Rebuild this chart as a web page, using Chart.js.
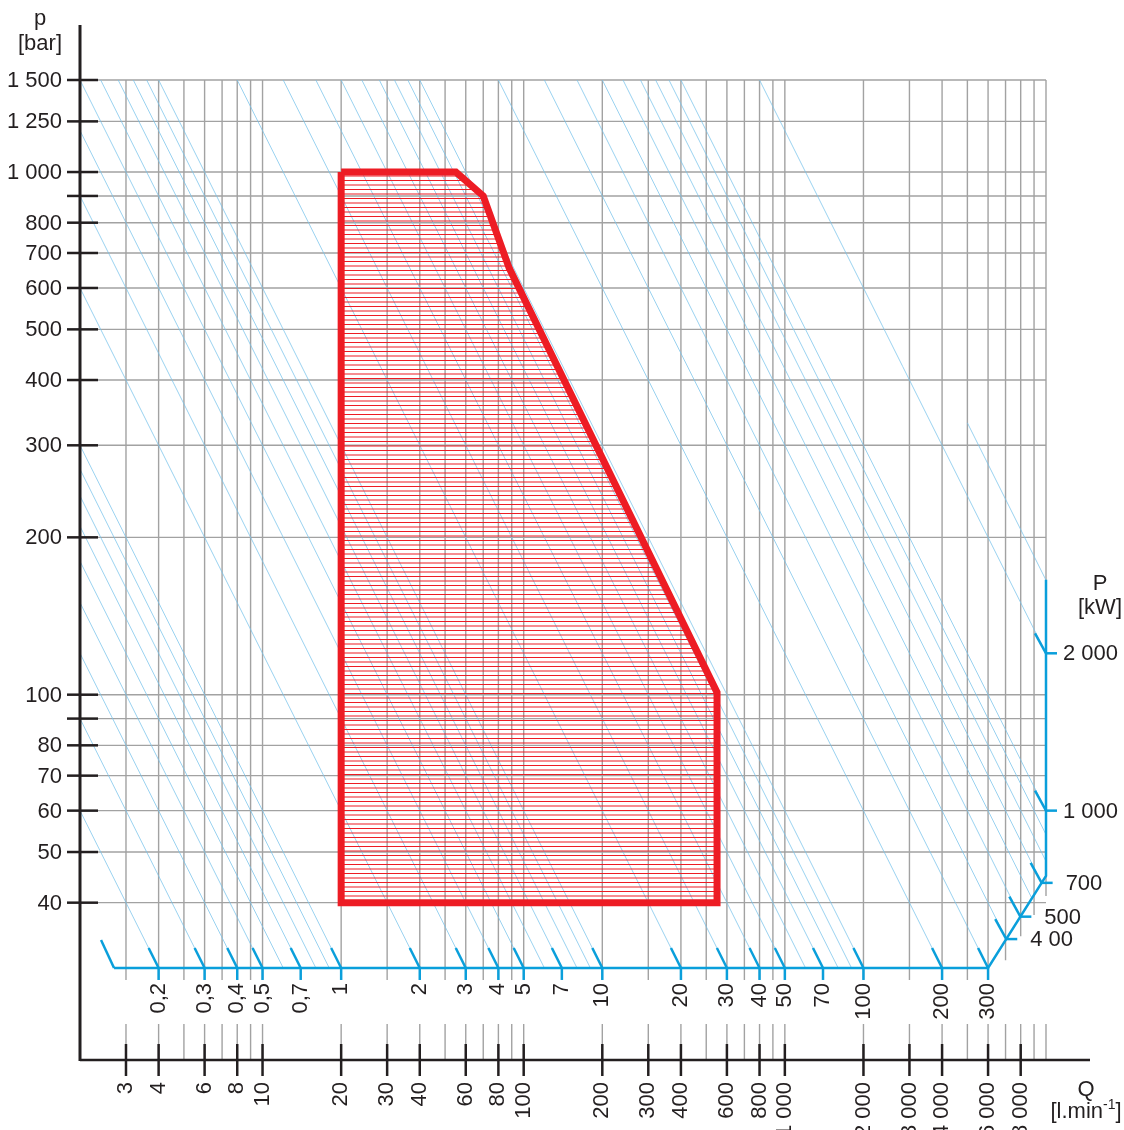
<!DOCTYPE html>
<html>
<head>
<meta charset="utf-8">
<title>p-Q diagram</title>
<script src="https://cdn.jsdelivr.net/npm/chart.js@4.4.1/dist/chart.umd.min.js"></script>
<style>
  html, body { margin: 0; padding: 0; background: #fff; }
  canvas { display: block; }
</style>
</head>
<body>
<canvas id="pqChart" width="1124" height="1130"></canvas>
<script>
// Q [l/min] - vertical grid and labelled ticks
const qGrid = [3, 4, 5, 6, 7, 8, 9, 10, 20, 30, 40, 50, 60, 70, 80, 90, 100, 200, 300, 400, 500, 600, 700, 800, 900,
    1000, 2000, 3000, 4000, 5000, 6000, 7000, 8000, 9000, 10000];
const qLabels = [3, 4, 6, 8, 10, 20, 30, 40, 60, 80, 100, 200, 300, 400, 600, 800, 1000, 2000, 3000, 4000, 6000, 8000];

// p [bar]
const pGrid = [40, 50, 60, 70, 80, 90, 100, 200, 300, 400, 500, 600, 700, 800, 900, 1000, 1250, 1500];
const pLabels = [40, 50, 60, 70, 80, 100, 200, 300, 400, 500, 600, 700, 800, 1000, 1250, 1500];

// P [kW] - lignes d'iso-puissance (P = p * Q / 600)
const powerLines = [0.2, 0.3, 0.4, 0.5, 0.6, 0.7, 0.8, 0.9, 1, 2, 3, 4, 5, 6, 7, 8, 9, 10, 20, 30, 40, 50, 60, 70, 80, 90,
    100, 200, 300, 400, 500, 600, 700, 800, 900, 1000, 2000];
const powerTicksBottom = [0.2, 0.3, 0.4, 0.5, 0.7, 1, 2, 3, 4, 5, 7, 10, 20, 30, 40, 50, 70, 100, 200, 300];
const powerTicksRight = [400, 500, 700, 1000, 2000];
const powerTicksRightText = ['4 00', '500', '700', '1 000', '2 000'];
const endLinePower = 2760;   // courte ligne qui finit en haut de l'echelle kW
const endLineFromQ = 5000;

// echelle des puissances (bleue): p = 30 bar, coude a Q = 6000, puis bord droit
const scaleQ = [2.7, 6000, 10000, 10000];
const scaleP = [30, 30, 45, 166];

// domaine de fonctionnement (zone rouge)
const rangeQ = [20, 55, 70, 88, 550, 550, 20, 20];
const rangeP = [1000, 1000, 900, 655, 101, 40, 40, 1000];

const Q_MIN = 2, Q_MAX = 10000, P_MIN = 20, P_MAX = 1500;

const RED = '#ed1c24';
const BLUE = '#0a9fdb';
const ISO = 'rgba(120, 195, 235, 0.75)';
const GRID = '#a2a2a2';
const DARK = '#231f20';
const FONT = '22px "Liberation Sans Narrow", "Liberation Sans", Arial, sans-serif';

// format "1 500", "0,2"
function fmt(v) {
    const parts = String(v).split('.');
    const int = parts[0].replace(/\B(?=(\d{3})+(?!\d))/g, ' ');
    return parts[1] ? int + ',' + parts[1] : int;
}

// point where the iso-power line P meets the power scale
function hitScale(P) {
    const L = Math.log10(600 * P);
    for (let i = 0; i < scaleQ.length - 1; i++) {
        const a0 = Math.log10(scaleQ[i]), b0 = Math.log10(scaleP[i]);
        const a1 = Math.log10(scaleQ[i + 1]), b1 = Math.log10(scaleP[i + 1]);
        const t = (L - a0 - b0) / ((a1 - a0) + (b1 - b0));
        if (t >= 0 && t <= 1) {
            return {x: Math.pow(10, a0 + t * (a1 - a0)), y: Math.pow(10, b0 + t * (b1 - b0))};
        }
    }
    return null;
}

// pressure of the power scale at a given Q
function scalePAt(q) {
    for (let i = 0; i < scaleQ.length - 1; i++) {
        if (scaleQ[i + 1] === scaleQ[i]) continue;
        if (q >= scaleQ[i] && q <= scaleQ[i + 1]) {
            const t = Math.log10(q / scaleQ[i]) / Math.log10(scaleQ[i + 1] / scaleQ[i]);
            return Math.pow(10, Math.log10(scaleP[i]) + t * Math.log10(scaleP[i + 1] / scaleP[i]));
        }
    }
    return scaleP[0];
}

function isoLine(P, fromQ) {
    const q0 = fromQ || Math.max(Q_MIN, 600 * P / P_MAX);
    return {
        data: [{x: q0, y: 600 * P / q0}, hitScale(P)],
        borderColor: ISO,
        borderWidth: 1,
        pointRadius: 0,
        fill: false,
        order: 2
    };
}

function seg(ctx, x0, y0, x1, y1) {
    ctx.beginPath();
    ctx.moveTo(x0, y0);
    ctx.lineTo(x1, y1);
    ctx.stroke();
}

function vText(ctx, txt, x, y) {
    ctx.save();
    ctx.translate(x, y);
    ctx.rotate(-Math.PI / 2);
    ctx.textAlign = 'right';
    ctx.textBaseline = 'middle';
    ctx.fillText(txt, 0, 0);
    ctx.restore();
}

// hachures horizontales de la zone rouge
const canvas = document.getElementById('pqChart');
const hatchCanvas = document.createElement('canvas');
hatchCanvas.width = 8;
hatchCanvas.height = 9;
const hctx = hatchCanvas.getContext('2d');
hctx.fillStyle = RED;
hctx.fillRect(0, 0, 8, 1);
hctx.fillStyle = 'rgba(237, 28, 36, 0.5)';
hctx.fillRect(0, 4, 8, 2);
const hatch = canvas.getContext('2d').createPattern(hatchCanvas, 'repeat');

const decorPlugin = {
    id: 'decor',
    beforeDatasetsDraw(chart) {
        const {ctx, chartArea: a, scales: {x, y}} = chart;
        ctx.save();
        ctx.strokeStyle = GRID;
        ctx.lineWidth = 1.4;
        pGrid.forEach(p => {
            const py = y.getPixelForValue(p);
            seg(ctx, a.left, py, a.right, py);
        });
        const base = y.getPixelForValue(scaleP[0]);
        qGrid.forEach(q => {
            const px = x.getPixelForValue(q);
            const yEnd = Math.min(base + 12, y.getPixelForValue(scalePAt(q)) + 20);
            seg(ctx, px, a.top, px, yEnd);
            seg(ctx, px, a.bottom - 36, px, a.bottom);
        });
        ctx.restore();
    },
    afterDatasetsDraw(chart) {
        const {ctx, chartArea: a, scales: {x, y}} = chart;
        ctx.save();
        ctx.font = FONT;
        ctx.fillStyle = DARK;

        // echelle kW en bas
        ctx.strokeStyle = BLUE;
        ctx.lineWidth = 2.5;
        const sx = x.getPixelForValue(scaleQ[0]), sy = y.getPixelForValue(scaleP[0]);
        seg(ctx, sx - 13, sy - 28, sx, sy);
        powerTicksBottom.forEach(P => {
            const pt = hitScale(P);
            const px = x.getPixelForValue(pt.x), py = y.getPixelForValue(pt.y);
            ctx.strokeStyle = BLUE;
            seg(ctx, px - 10, py - 20, px, py);
            seg(ctx, px, py, px, py + 12);
            vText(ctx, fmt(P), px, py + 15);
        });

        // echelle kW a droite
        ctx.textAlign = 'left';
        ctx.textBaseline = 'middle';
        powerTicksRight.forEach((P, i) => {
            const pt = hitScale(P);
            const px = x.getPixelForValue(pt.x), py = y.getPixelForValue(pt.y);
            seg(ctx, px - 11, py - 20, px, py);
            seg(ctx, px, py, px + 11, py);
            ctx.fillText(powerTicksRightText[i], px + (pt.x < Q_MAX - 1 ? 24 : 17), py + 1);
        });

        // axe Q
        ctx.strokeStyle = DARK;
        ctx.lineWidth = 2.5;
        qLabels.forEach(q => {
            const px = x.getPixelForValue(q);
            seg(ctx, px, a.bottom - 16, px, a.bottom + 16);
            vText(ctx, fmt(q), px, a.bottom + 22);
        });
        seg(ctx, a.left, a.bottom, a.right + 44, a.bottom);

        // axe p
        pGrid.forEach(p => {
            const py = y.getPixelForValue(p);
            seg(ctx, a.left - 13, py, a.left + 18, py);
        });
        ctx.textAlign = 'right';
        pLabels.forEach(p => {
            ctx.fillText(fmt(p), a.left - 18, y.getPixelForValue(p) + 1);
        });
        ctx.lineWidth = 3;
        seg(ctx, a.left, a.top - 55, a.left, a.bottom + 1);

        // titres des axes
        ctx.textAlign = 'center';
        ctx.fillText('p', 40, 19);
        ctx.fillText('[bar]', 40, 44);
        ctx.fillText('P', 1100, 584);
        ctx.fillText('[kW]', 1100, 608);
        ctx.fillText('Q', 1086, 1090);
        const main = '[l.min', sup = '-1', close = ']';
        const w1 = ctx.measureText(main).width, w3 = ctx.measureText(close).width;
        ctx.font = '14px "Liberation Sans Narrow", "Liberation Sans", Arial, sans-serif';
        const w2 = ctx.measureText(sup).width;
        const left = 1086 - (w1 + w2 + w3) / 2;
        ctx.textAlign = 'left';
        ctx.fillText(sup, left + w1, 1105);
        ctx.font = FONT;
        ctx.fillText(main, left, 1112);
        ctx.fillText(close, left + w1 + w2, 1112);
        ctx.restore();
    }
};

const datasets = [
    {
        label: 'Domaine',
        data: rangeQ.map((q, i) => ({x: q, y: rangeP[i]})),
        borderColor: RED,
        borderWidth: 7,
        borderJoinStyle: 'miter',
        backgroundColor: hatch,
        fill: 'shape',
        pointRadius: 0,
        order: 0
    },
    {
        label: 'Echelle P',
        data: scaleQ.map((q, i) => ({x: q, y: scaleP[i]})),
        borderColor: BLUE,
        borderWidth: 2.5,
        borderJoinStyle: 'miter',
        fill: false,
        pointRadius: 0,
        clip: 10,
        order: 1
    }
];
powerLines.forEach(P => datasets.push(isoLine(P)));
datasets.push(isoLine(endLinePower, endLineFromQ));

new Chart(canvas, {
    type: 'line',
    data: {datasets: datasets},
    options: {
        responsive: false,
        devicePixelRatio: 1,
        animation: false,
        events: [],
        layout: {padding: {left: 80, top: 80, right: 78, bottom: 70}},
        plugins: {legend: {display: false}, tooltip: {enabled: false}},
        scales: {
            x: {type: 'logarithmic', min: Q_MIN, max: Q_MAX, display: false},
            y: {type: 'logarithmic', min: P_MIN, max: P_MAX, display: false}
        }
    },
    plugins: [decorPlugin]
});
</script>
</body>
</html>
